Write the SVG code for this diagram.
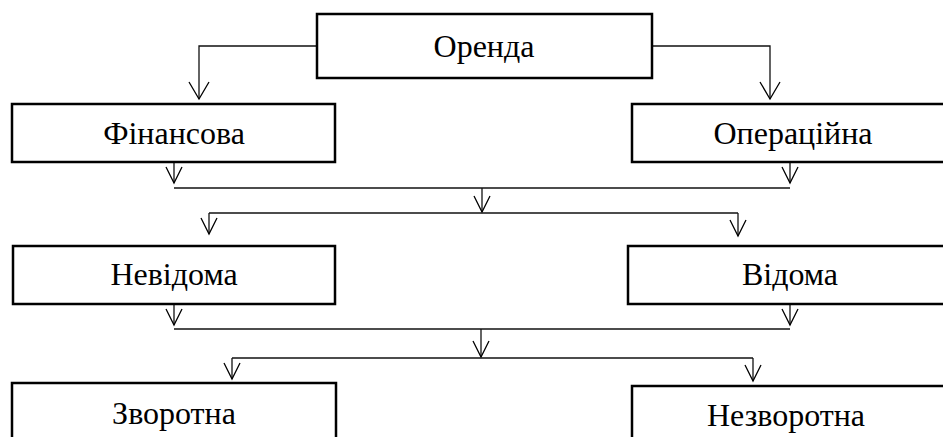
<svg xmlns="http://www.w3.org/2000/svg" width="943" height="437" viewBox="0 0 943 437">
<style>
.box{fill:#fff;stroke:#000;stroke-width:2.5}
.lbl{font-family:"Liberation Serif","Times New Roman",serif;font-size:32px;fill:#000;text-anchor:middle}
.ln{fill:none;stroke:#111;stroke-width:1.3}
</style>
<defs>
<marker id="ah" markerUnits="userSpaceOnUse" markerWidth="24" markerHeight="24" viewBox="-20 -12 24 24" refX="0" refY="0" orient="auto">
<path d="M-16,-8 L0,0 L-16,8" fill="none" stroke="#000" stroke-width="1.3"/>
</marker>
<marker id="ahb" markerUnits="userSpaceOnUse" markerWidth="26" markerHeight="26" viewBox="-22 -13 26 26" refX="0" refY="0" orient="auto">
<path d="M-17,-10 L0,0 L-17,10" fill="none" stroke="#000" stroke-width="1.3"/>
</marker>
</defs>
<g id="connectors">
<path class="ln" d="M317,46 H199 V99" marker-end="url(#ahb)"/>
<path class="ln" d="M652,46 H770 V99" marker-end="url(#ahb)"/>
<path class="ln" d="M174,162 V183" marker-end="url(#ah)"/>
<path class="ln" d="M790,162 V183" marker-end="url(#ah)"/>
<path class="ln" d="M174,188 H790"/>
<path class="ln" d="M482,188 V212" marker-end="url(#ah)"/>
<path class="ln" d="M209,213 V234" marker-end="url(#ah)"/>
<path class="ln" d="M738,213 V236" marker-end="url(#ah)"/>
<path class="ln" d="M209,213 H738"/>
<path class="ln" d="M174,304 V325" marker-end="url(#ah)"/>
<path class="ln" d="M790,304 V325" marker-end="url(#ah)"/>
<path class="ln" d="M174,329 H790"/>
<path class="ln" d="M481,329 V357" marker-end="url(#ah)"/>
<path class="ln" d="M232,358 H753"/>
<path class="ln" d="M232,358 V379" marker-end="url(#ah)"/>
<path class="ln" d="M753,358 V381" marker-end="url(#ah)"/>
</g>
<g id="orenda">
<rect class="box" x="317" y="14" width="335" height="64"/>
<text class="lbl" x="484" y="57">Оренда</text>
</g>
<g id="finansova">
<rect class="box" x="12" y="104" width="323" height="58"/>
<text class="lbl" x="174" y="144">Фінансова</text>
</g>
<g id="operatsiina">
<rect class="box" x="632" y="104" width="322" height="58"/>
<text class="lbl" x="793" y="144">Операційна</text>
</g>
<g id="nevidoma">
<rect class="box" x="13" y="246" width="322" height="58"/>
<text class="lbl" x="174" y="285">Невідома</text>
</g>
<g id="vidoma">
<rect class="box" x="628" y="246" width="324" height="58"/>
<text class="lbl" x="790" y="285">Відома</text>
</g>
<g id="zvorotna">
<rect class="box" x="12" y="383" width="324" height="70"/>
<text class="lbl" x="174" y="424">Зворотна</text>
</g>
<g id="nezvorotna">
<rect class="box" x="632" y="386" width="322" height="70"/>
<text class="lbl" x="786" y="426">Незворотна</text>
</g>
</svg>
